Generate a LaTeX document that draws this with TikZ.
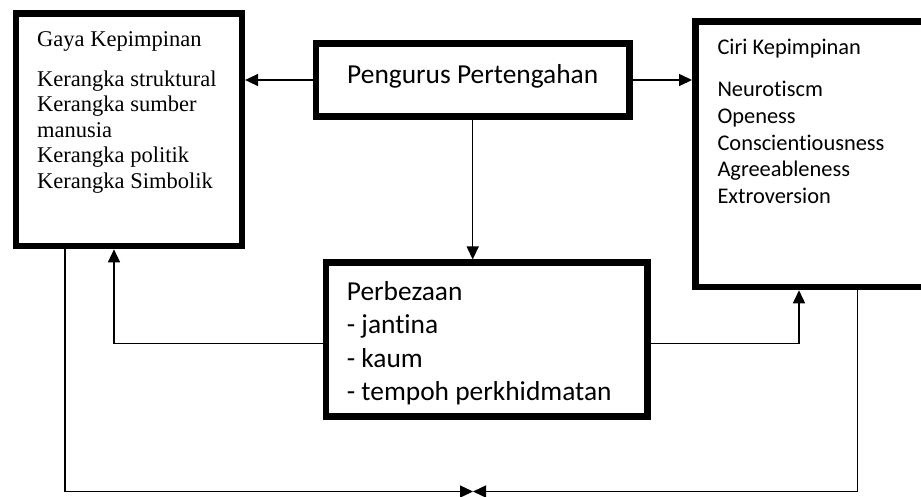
\documentclass[tikz,border=0pt]{standalone}
\usepackage{fontspec}
\setmainfont{Carlito}[Ligatures={NoCommon}]
\newfontfamily\tnr{Liberation Serif}[Ligatures={NoCommon}]
\usetikzlibrary{arrows.meta}
\begin{document}
\begin{tikzpicture}[x=1pt,y=-1pt,
  box/.style={draw=black,line width=6.5pt,inner sep=0pt},
  conn/.style={draw=black,line width=1.4pt,-{Triangle[length=13pt,width=12pt]}},
  gtxt/.style={font=\tnr\fontsize{22.5}{25.6}\selectfont,inner sep=0pt,anchor=base west},
  ctxt/.style={font=\fontsize{22.4}{26.7}\selectfont,inner sep=0pt,anchor=base west},
  ptxt/.style={font=\fontsize{27.4}{33.6}\selectfont,inner sep=0pt,anchor=base west}]
\useasboundingbox (0,0) rectangle (921,496);
\clip (0,0) rectangle (921,496);
% boxes
\node[box,minimum width=225.9pt,minimum height=232.7pt] (gaya) at (128.9,129.7) {};
\node[box,minimum width=313.3pt,minimum height=73.3pt] (pp) at (472.7,80) {};
\node[box,minimum width=249.4pt,minimum height=265.5pt] (ciri) at (820,154.25) {};
\node[box,minimum width=321.3pt,minimum height=154pt] (perb) at (486.7,339.7) {};
% texts
\node[gtxt] (gt) at (37,46.7) {Gaya Kepimpinan};
\foreach \t [count=\i] in {Kerangka struktural,Kerangka sumber,manusia,Kerangka politik,Kerangka Simbolik}
  \node[gtxt] (gl\i) at ({37},{86+25.6*(\i-1)}) {\t};
\node[ptxt,anchor=base] (ppt) at (472.7,83.3) {Pengurus Pertengahan};
\node[ctxt] (ct) at (717.3,54.3) {Ciri Kepimpinan};
\foreach \t [count=\i] in {Neurotiscm,Openess,Conscientiousness,Agreeableness,Extroversion}
  \node[ctxt] (cl\i) at ({717.3},{96.7+26.67*(\i-1)}) {\t};
\foreach \t [count=\i] in {Perbezaan,- jantina,- kaum,- tempoh perkhidmatan}
  \node[ptxt] (pl\i) at ({346.7},{300+33.6*(\i-1)}) {\t};
% connectors
\coordinate (meet) at (473,491.5);
\draw[conn] (pp.west) -- (pp.west -| gaya.east);
\draw[conn] (pp.east) -- (pp.east -| ciri.west);
\draw[conn] (pp.south) -- (pp.south |- perb.north);
\draw[conn] ([yshift=-3.6pt]perb.west) -| ([xshift=-14.9pt]gaya.south);
\draw[conn] ([yshift=-3.6pt]perb.east) -| ([xshift=-21pt]ciri.south);
\draw[conn] ([xshift=-63.9pt]gaya.south) |- (meet);
\draw[conn] ([xshift=37.7pt]ciri.south) |- (meet);
\end{tikzpicture}
\end{document}
